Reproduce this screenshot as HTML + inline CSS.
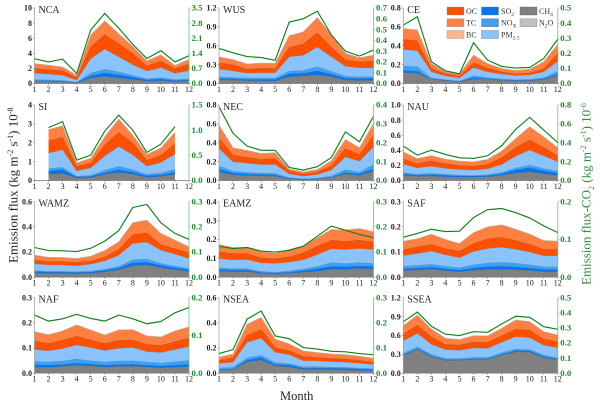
<!DOCTYPE html>
<html>
<head>
<meta charset="utf-8">
<title>Monthly emission flux by region</title>
<style>
html,body{margin:0;padding:0;background:#fff;}
#chart{display:block;width:600px;height:405px;font-family:"Liberation Serif",serif;filter:blur(.3px);}
.yl{font-size:8px;font-weight:bold;fill:#222;text-anchor:end;}
.yr{font-size:8.8px;font-weight:bold;fill:#1a8a2a;text-anchor:start;}
.xl{font-size:8px;fill:#222;text-anchor:middle;}
.pt{font-size:10px;fill:#222;}
.lg{font-size:8px;fill:#333;}
.ax{font-size:13px;fill:#222;}
.axg{font-size:13px;fill:#2f8f3a;}
</style>
</head>
<body>
<svg id="chart" xmlns="http://www.w3.org/2000/svg" width="600" height="405" viewBox="0 0 600 405">
  <g id="plots"></g>
  <g id="legend">
    <g><rect x="447" y="7" width="17" height="8" fill="#fa5000" stroke="#999" stroke-width=".4"/><text class="lg" x="466" y="14">OC</text></g>
    <g><rect x="447" y="18.7" width="17" height="8" fill="#ff8040" stroke="#999" stroke-width=".4"/><text class="lg" x="466" y="25.7">TC</text></g>
    <g><rect x="447" y="30.5" width="17" height="8" fill="#ffb68c" stroke="#999" stroke-width=".4"/><text class="lg" x="466" y="37.5">BC</text></g>
    <g><rect x="481.5" y="7" width="17" height="8" fill="#0a74ea" stroke="#777" stroke-width=".4"/><text class="lg" x="501" y="14">SO<tspan font-size="5.5" dy="2">2</tspan></text></g>
    <g><rect x="481.5" y="18.7" width="17" height="8" fill="#3f9ff2" stroke="#777" stroke-width=".4"/><text class="lg" x="501" y="25.7">NO<tspan font-size="5.5" dy="2">X</tspan></text></g>
    <g><rect x="481.5" y="30.5" width="17" height="8" fill="#8ac3fc" stroke="#777" stroke-width=".4"/><text class="lg" x="501" y="37.5">PM<tspan font-size="5.5" dy="2">2.5</tspan></text></g>
    <g><rect x="520" y="7" width="17" height="8" fill="#808080" stroke="#666" stroke-width=".4"/><text class="lg" x="539" y="14">CH<tspan font-size="5.5" dy="2">4</tspan></text></g>
    <g><rect x="520" y="18.7" width="17" height="8" fill="#c0c0c0" stroke="#888" stroke-width=".4"/><text class="lg" x="539" y="25.7">N<tspan font-size="5.5" dy="2">2</tspan><tspan dy="-2">O</tspan></text></g>
  </g>
  <text class="ax" transform="translate(17.5,263) rotate(-90)">Emission flux (kg m<tspan font-size="8" dy="-4.5">-2</tspan><tspan dy="4.5"> s</tspan><tspan font-size="8" dy="-4.5">-1</tspan><tspan dy="4.5">) 10</tspan><tspan font-size="8" dy="-4.5">-8</tspan></text>
  <text class="axg" transform="translate(590.5,285) rotate(-90)">Emission flux-CO<tspan font-size="8" dy="3.5">2</tspan><tspan dy="-3.5"> (kg m</tspan><tspan font-size="8" dy="-4.5">-2</tspan><tspan dy="4.5"> s</tspan><tspan font-size="8" dy="-4.5">-1</tspan><tspan dy="4.5">) 10</tspan><tspan font-size="8" dy="-4.5">-6</tspan></text>
  <text class="ax" x="280" y="400" style="font-size:12.5px">Month</text>
</svg>
<script>
// Values. Stacked series are the cumulative top of each layer in left-axis units;
// the CO2 series is in right-axis units.
const months = [1,2,3,4,5,6,7,8,9,10,11,12];

const nca_ch4 = [.3,.28,.25,.1,.75,.95,.75,.55,.33,.4,.27,.33];
const nca_so2 = [.4,.37,.33,.15,1.05,1.4,1.15,.85,.5,.6,.4,.5];
const nca_nox = [.55,.5,.45,.2,1.4,1.9,1.55,1.1,.65,.8,.55,.65];
const nca_pm = [1.35,1.25,1.1,.45,3.3,4.55,3.55,2.5,1.65,2.1,1.35,1.7];
const nca_oc = [2,1.85,1.7,.8,4.9,6.5,5.3,4,2.35,3,2,2.6];
const nca_tc = [2.65,2.43,2.2,1.1,6.4,8.3,6.6,4.9,3,3.8,2.4,3.2];
const nca_co2 = [1.15,1,1.13,.46,2.48,3.25,2.56,1.81,1.16,1.52,1,1.29];
const nca_left = ['0','2','4','6','8','10'];
const nca_right = ['0.0','0.7','1.4','2.1','2.8','3.5'];

const wus_ch4 = [.06,.055,.045,.045,.04,.11,.12,.14,.11,.055,.05,.05];
const wus_so2 = [.08,.075,.065,.065,.065,.155,.165,.2,.15,.085,.08,.085];
const wus_nox = [.11,.1,.09,.09,.09,.2,.21,.27,.195,.12,.11,.11];
const wus_pm = [.23,.2,.165,.17,.17,.425,.45,.58,.425,.275,.25,.25];
const wus_oc = [.33,.3,.23,.245,.24,.58,.63,.81,.58,.38,.345,.36];
const wus_tc = [.425,.38,.31,.325,.32,.76,.82,1.05,.77,.48,.41,.45];
const wus_co2 = [.325,.285,.25,.24,.215,.57,.6,.67,.45,.3,.255,.31];
const wus_left = ['0.0','0.3','0.6','0.9','1.2'];
const wus_right = ['0.0','0.1','0.2','0.3','0.4','0.5','0.6','0.7'];

const ce_ch4 = [.115,.11,.045,.03,.018,.05,.045,.033,.028,.03,.042,.085];
const ce_so2 = [.14,.13,.05,.036,.022,.065,.05,.04,.034,.036,.05,.1];
const ce_nox = [.188,.18,.06,.042,.028,.085,.064,.05,.042,.046,.064,.131];
const ce_pm = [.36,.347,.124,.081,.06,.17,.124,.1,.085,.092,.124,.237];
const ce_oc = [.47,.453,.16,.106,.078,.223,.166,.124,.103,.113,.16,.319];
const ce_tc = [.584,.566,.212,.124,.1,.3,.212,.16,.138,.152,.23,.414];
const ce_co2 = [.387,.442,.144,.084,.064,.27,.155,.113,.102,.106,.166,.294];
const ce_left = ['0.0','0.2','0.4','0.6','0.8'];
const ce_right = ['0.0','0.1','0.2','0.3','0.4','0.5'];

const si_ch4 = [null,.34,.38,.13,.15,.33,.44,.34,.18,.22,.34,null];
const si_so2 = [null,.5,.58,.19,.22,.42,.58,.45,.26,.3,.44,null];
const si_nox = [null,.64,.71,.23,.28,.55,.76,.58,.34,.41,.6,null];
const si_pm = [null,1.45,1.63,.51,.67,1.3,1.8,1.36,.76,.96,1.4,null];
const si_oc = [null,2.12,2.3,.76,.92,1.9,2.56,2,1.08,1.35,1.96,null];
const si_tc = [null,2.7,2.9,.94,1.17,2.32,3.26,2.4,1.38,1.73,2.55,null];
const si_co2 = [null,1.05,1.17,.405,.504,.98,1.3,1,.557,.723,1.07,null];
const si_left = ['0','1','2','3','4'];
const si_right = ['0.0','0.5','1.0','1.5'];

const nec_ch4 = [.09,.06,.055,.05,.045,.02,.012,.016,.03,.07,.055,.1];
const nec_so2 = [.12,.08,.07,.065,.06,.025,.015,.02,.036,.085,.07,.125];
const nec_nox = [.156,.1,.088,.081,.078,.032,.02,.028,.05,.117,.092,.17];
const nec_pm = [.34,.198,.184,.17,.17,.07,.046,.064,.11,.25,.205,.358];
const nec_oc = [.457,.27,.248,.227,.234,.103,.07,.092,.156,.34,.276,.48];
const nec_tc = [.588,.347,.319,.287,.294,.12,.092,.117,.21,.435,.347,.605];
const nec_co2 = [.39,.25,.182,.16,.16,.069,.055,.073,.122,.258,.205,.34];
const nec_left = ['0.0','0.2','0.4','0.6','0.8'];
const nec_right = ['0.0','0.1','0.2','0.3','0.4'];

const nau_ch4 = [.07,.055,.06,.05,.045,.045,.05,.07,.1,.115,.09,.07];
const nau_so2 = [.09,.07,.08,.07,.06,.06,.065,.09,.14,.17,.13,.1];
const nau_nox = [.106,.088,.097,.084,.075,.07,.08,.11,.168,.204,.16,.124];
const nau_pm = [.217,.168,.19,.16,.146,.137,.155,.212,.323,.403,.327,.248];
const nau_oc = [.288,.226,.26,.226,.2,.19,.217,.305,.438,.54,.438,.327];
const nau_tc = [.38,.29,.33,.283,.257,.248,.28,.39,.557,.712,.58,.434];
const nau_co2 = [.365,.269,.322,.276,.24,.234,.262,.368,.542,.669,.535,.4];
const nau_left = ['0.0','0.2','0.4','0.6','0.8','1.0'];
const nau_right = ['0.0','0.2','0.4','0.6','0.8'];

const wamz_ch4 = [.035,.03,.03,.028,.032,.042,.06,.09,.098,.075,.06,.045];
const wamz_so2 = [.045,.04,.04,.038,.042,.054,.074,.115,.12,.095,.075,.06];
const wamz_nox = [.053,.048,.048,.045,.05,.064,.088,.14,.146,.111,.09,.072];
const wamz_pm = [.106,.098,.098,.09,.104,.13,.175,.268,.279,.215,.183,.149];
const wamz_oc = [.138,.125,.125,.119,.13,.162,.223,.34,.353,.26,.228,.196];
const wamz_tc = [.175,.159,.157,.149,.167,.212,.281,.433,.454,.348,.295,.242];
const wamz_co2 = [.118,.106,.105,.102,.115,.143,.185,.277,.289,.216,.174,.15];
const wamz_left = ['0.0','0.2','0.4','0.6'];
const wamz_right = ['0.0','0.1','0.2','0.3'];

const eamz_ch4 = [.032,.03,.03,.02,.018,.022,.026,.033,.042,.042,.046,.044];
const eamz_so2 = [.042,.038,.038,.025,.022,.027,.034,.045,.058,.056,.06,.058];
const eamz_nox = [.051,.046,.046,.032,.027,.034,.044,.058,.078,.073,.078,.074];
const eamz_pm = [.099,.092,.094,.076,.073,.08,.092,.12,.15,.147,.152,.147];
const eamz_oc = [.135,.126,.126,.103,.099,.108,.131,.165,.197,.19,.197,.188];
const eamz_tc = [.173,.157,.157,.136,.126,.147,.166,.209,.253,.25,.258,.241];
const eamz_co2 = [.123,.114,.118,.104,.1,.107,.123,.163,.203,.187,.17,.157];
const eamz_left = ['0.0','0.1','0.2','0.3','0.4'];
const eamz_right = ['0.0','0.1','0.2','0.3'];

const saf_ch4 = [.026,.029,.032,.026,.022,.028,.031,.032,.03,.027,.022,.022];
const saf_so2 = [.034,.037,.04,.034,.028,.037,.042,.044,.041,.037,.031,.03];
const saf_nox = [.044,.048,.052,.044,.038,.05,.057,.06,.056,.05,.042,.042];
const saf_pm = [.086,.094,.104,.089,.078,.102,.114,.119,.111,.1,.085,.085];
const saf_oc = [.11,.121,.131,.114,.104,.135,.153,.159,.147,.131,.111,.111];
const saf_tc = [.143,.153,.171,.15,.134,.177,.2,.208,.191,.171,.146,.143];
const saf_co2 = [.106,.116,.127,.121,.122,.158,.179,.182,.171,.157,.136,.118];
const saf_left = ['0.0','0.1','0.2','0.3'];
const saf_right = ['0.0','0.1','0.2'];

const naf_ch4 = [.025,.024,.027,.032,.029,.025,.027,.028,.025,.022,.024,.026];
const naf_so2 = [.034,.032,.035,.04,.036,.032,.034,.036,.032,.029,.032,.036];
const naf_nox = [.048,.045,.049,.057,.05,.045,.049,.05,.045,.041,.046,.052];
const naf_pm = [.094,.089,.098,.112,.102,.09,.099,.102,.086,.082,.094,.106];
const naf_oc = [.128,.119,.132,.148,.132,.119,.132,.133,.115,.111,.126,.14];
const naf_tc = [.165,.153,.168,.192,.172,.152,.172,.173,.148,.144,.168,.184];
const naf_co2 = [.154,.138,.144,.156,.145,.138,.154,.144,.131,.137,.16,.174];
const naf_left = ['0.0','0.1','0.2','0.3'];
const naf_right = ['0.0','0.1','0.2'];

const nsea_ch4 = [.024,.03,.09,.105,.058,.05,.03,.03,.028,.026,.022,.018];
const nsea_so2 = [.03,.035,.105,.125,.07,.065,.04,.04,.04,.038,.033,.028];
const nsea_nox = [.042,.048,.124,.143,.087,.077,.053,.053,.05,.048,.042,.037];
const nsea_pm = [.079,.087,.246,.278,.167,.148,.1,.098,.092,.087,.079,.069];
const nsea_oc = [.103,.125,.304,.349,.206,.18,.135,.127,.119,.114,.103,.09];
const nsea_tc = [.127,.153,.389,.444,.27,.233,.177,.164,.153,.148,.135,.119];
const nsea_co2 = [.078,.094,.215,.247,.148,.137,.102,.096,.087,.085,.078,.073];
const nsea_left = ['0.0','0.2','0.4','0.6'];
const nsea_right = ['0.0','0.1','0.2','0.3'];

const ssea_ch4 = [.28,.38,.26,.205,.205,.22,.22,.285,.34,.335,.25,.21];
const ssea_so2 = [.29,.395,.275,.215,.215,.23,.23,.3,.36,.355,.265,.225];
const ssea_nox = [.317,.423,.301,.238,.238,.254,.254,.328,.386,.381,.291,.248];
const ssea_pm = [.513,.634,.46,.375,.365,.402,.396,.492,.581,.566,.444,.407];
const ssea_oc = [.624,.767,.581,.46,.45,.497,.492,.597,.703,.687,.544,.502];
const ssea_tc = [.756,.925,.703,.555,.534,.597,.592,.714,.846,.82,.66,.608];
const ssea_co2 = [.341,.405,.311,.258,.249,.275,.271,.326,.377,.37,.308,.291];
const ssea_left = ['0.0','0.3','0.6','0.9','1.2'];
const ssea_right = ['0.0','0.1','0.2','0.3','0.4','0.5'];

const regions = [
  ['NCA',[nca_ch4,nca_so2,nca_nox,nca_pm,nca_oc,nca_tc],nca_co2,nca_left,nca_right],
  ['WUS',[wus_ch4,wus_so2,wus_nox,wus_pm,wus_oc,wus_tc],wus_co2,wus_left,wus_right],
  ['CE',[ce_ch4,ce_so2,ce_nox,ce_pm,ce_oc,ce_tc],ce_co2,ce_left,ce_right],
  ['SI',[si_ch4,si_so2,si_nox,si_pm,si_oc,si_tc],si_co2,si_left,si_right],
  ['NEC',[nec_ch4,nec_so2,nec_nox,nec_pm,nec_oc,nec_tc],nec_co2,nec_left,nec_right],
  ['NAU',[nau_ch4,nau_so2,nau_nox,nau_pm,nau_oc,nau_tc],nau_co2,nau_left,nau_right],
  ['WAMZ',[wamz_ch4,wamz_so2,wamz_nox,wamz_pm,wamz_oc,wamz_tc],wamz_co2,wamz_left,wamz_right],
  ['EAMZ',[eamz_ch4,eamz_so2,eamz_nox,eamz_pm,eamz_oc,eamz_tc],eamz_co2,eamz_left,eamz_right],
  ['SAF',[saf_ch4,saf_so2,saf_nox,saf_pm,saf_oc,saf_tc],saf_co2,saf_left,saf_right],
  ['NAF',[naf_ch4,naf_so2,naf_nox,naf_pm,naf_oc,naf_tc],naf_co2,naf_left,naf_right],
  ['NSEA',[nsea_ch4,nsea_so2,nsea_nox,nsea_pm,nsea_oc,nsea_tc],nsea_co2,nsea_left,nsea_right],
  ['SSEA',[ssea_ch4,ssea_so2,ssea_nox,ssea_pm,ssea_oc,ssea_tc],ssea_co2,ssea_left,ssea_right]
];
const layerNames = ['ch4','so2','nox','pm25','oc','tc'];

// Layout and style
const colLeft = [34.5,219,403.3];
const rowTop = [8,105,201.7,297.7];
const plotW = 154.5;
const plotH = 75.5;
const layerFill = ['#808080','#0a74ea','#3f9ff2','#8ac3fc','#fa5000','#ff8040'];
const layerEdge = ['#6f6f6f','#2d6fb8','#5a90c4','#7d9fc2','#a8592c','#b9b0a8'];
const NS = 'http://www.w3.org/2000/svg';
const root = document.getElementById('plots');

function add(tag, parent) {
  const el = document.createElementNS(NS, tag);
  parent.appendChild(el);
  return el;
}

regions.forEach(function (r, idx) {
  const label = r[0].toLowerCase();
  const stacks = r[1];
  const co2 = r[2];
  const leftTicks = r[3];
  const rightTicks = r[4];
  const x0 = colLeft[idx % 3];
  const y0 = rowTop[Math.floor(idx / 3)];
  const yb = y0 + plotH;
  const leftMax = parseFloat(leftTicks[leftTicks.length - 1]);
  const rightMax = parseFloat(rightTicks[rightTicks.length - 1]);
  const sx = function (m) { return x0 + (m - 1) / 11 * plotW; };
  const sy = function (v) { return yb - v / leftMax * plotH; };
  const sr = function (v) { return yb - v / rightMax * plotH; };

  const g = add('g', root);
  
  

  const defined = months.map(function (m, i) { return i; }).filter(function (i) { return stacks[0][i] !== null; });

  stacks.forEach(function (vals, li) {
    const lower = li > 0 ? stacks[li - 1] : null;
    let pts = defined.map(function (i) { return sx(months[i]).toFixed(2) + ',' + sy(vals[i]).toFixed(2); });
    const back = defined.slice().reverse().map(function (i) {
      return sx(months[i]).toFixed(2) + ',' + sy(lower ? lower[i] : 0).toFixed(2);
    });
    const poly = add('polygon', g);
    poly.setAttribute('points', pts.concat(back).join(' '));
    poly.setAttribute('fill', layerFill[li]);
    
    
    const edge = add('polyline', g);
    edge.setAttribute('points', pts.join(' '));
    edge.setAttribute('fill', 'none');
    edge.setAttribute('stroke', layerEdge[li]);
    edge.setAttribute('stroke-width', '0.6');
    
    
  });

  const line = add('polyline', g);
  line.setAttribute('points', defined.map(function (i) {
    return sx(months[i]).toFixed(2) + ',' + sr(co2[i]).toFixed(2);
  }).join(' '));
  line.setAttribute('fill', 'none');
  line.setAttribute('stroke', '#0f8018');
  line.setAttribute('stroke-width', '1.15');
  
  

  const leftAxis = add('line', g);
  leftAxis.setAttribute('x1', x0);
  leftAxis.setAttribute('x2', x0);
  leftAxis.setAttribute('y1', y0);
  leftAxis.setAttribute('y2', yb);
  leftAxis.setAttribute('stroke', '#999');
  leftAxis.setAttribute('stroke-width', '0.7');
  
  

  const rightAxis = add('line', g);
  rightAxis.setAttribute('x1', x0 + plotW);
  rightAxis.setAttribute('x2', x0 + plotW);
  rightAxis.setAttribute('y1', y0);
  rightAxis.setAttribute('y2', yb);
  rightAxis.setAttribute('stroke', '#6fc07a');
  rightAxis.setAttribute('stroke-width', '0.8');
  
  

  const bottomAxis = add('line', g);
  bottomAxis.setAttribute('x1', x0);
  bottomAxis.setAttribute('x2', x0 + plotW);
  bottomAxis.setAttribute('y1', yb);
  bottomAxis.setAttribute('y2', yb);
  bottomAxis.setAttribute('stroke', '#777');
  bottomAxis.setAttribute('stroke-width', '0.7');
  
  

  leftTicks.forEach(function (t) {
    const y = sy(parseFloat(t));
    const tick = add('line', g);
    tick.setAttribute('x1', x0 - 1.5);
    tick.setAttribute('x2', x0);
    tick.setAttribute('y1', y);
    tick.setAttribute('y2', y);
    tick.setAttribute('stroke', '#777');
    tick.setAttribute('stroke-width', '0.6');
    
    
    const text = add('text', g);
    text.setAttribute('class', 'yl');
    text.setAttribute('x', x0 - 2.5);
    text.setAttribute('y', y + 2.7);
    text.textContent = t;
    
    
  });

  rightTicks.forEach(function (t) {
    const y = sr(parseFloat(t));
    const tick = add('line', g);
    tick.setAttribute('x1', x0 + plotW);
    tick.setAttribute('x2', x0 + plotW + 1.5);
    tick.setAttribute('y1', y);
    tick.setAttribute('y2', y);
    tick.setAttribute('stroke', '#6fc07a');
    tick.setAttribute('stroke-width', '0.6');
    
    
    const text = add('text', g);
    text.setAttribute('class', 'yr');
    text.setAttribute('x', x0 + plotW + 2.5);
    text.setAttribute('y', y + 2.7);
    text.textContent = t;
    
    
  });

  months.forEach(function (m) {
    const tick = add('line', g);
    tick.setAttribute('x1', sx(m));
    tick.setAttribute('x2', sx(m));
    tick.setAttribute('y1', yb);
    tick.setAttribute('y2', yb + 1.5);
    tick.setAttribute('stroke', '#777');
    tick.setAttribute('stroke-width', '0.6');
    
    
    const text = add('text', g);
    text.setAttribute('class', 'xl');
    text.setAttribute('x', sx(m));
    text.setAttribute('y', yb + 8.5);
    text.textContent = m;
    
    
  });

  const title = add('text', g);
  title.setAttribute('class', 'pt');
  title.setAttribute('x', x0 + 4);
  title.setAttribute('y', y0 + 4.8);
  title.textContent = r[0];
  
  
});
</script>
</body>
</html>
